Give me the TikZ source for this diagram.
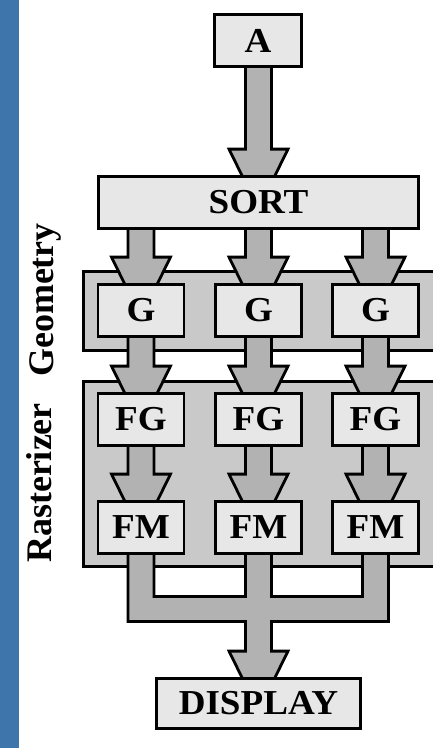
\documentclass[tikz,border=0pt]{standalone}
\usepackage{fontspec}
\setmainfont{Liberation Serif}
\newfontfamily\boxfam[FakeStretch=1.06]{Liberation Serif}
\usetikzlibrary{calc}
\definecolor{boxfill}{RGB}{231,231,231}
\definecolor{panelfill}{RGB}{201,201,201}
\definecolor{arrowfill}{RGB}{178,178,178}
\definecolor{sideblue}{RGB}{62,118,172}
\newcommand{\boxfont}{\boxfam\bfseries\fontsize{35}{35}\selectfont}
\newcommand{\labfont}{\bfseries\fontsize{36}{36}\selectfont}
\pgfdeclarelayer{panels}
\pgfdeclarelayer{arrows}
\pgfsetlayers{panels,arrows,main}
\tikzset{
  box/.style={draw, fill=boxfill, line width=2.8pt, inner sep=0pt, minimum height=52pt, font=\boxfont},
  colbox/.style={box, minimum width=86pt},
  panel/.style={draw, fill=panelfill, line width=2.8pt, inner sep=0pt},
  barrow/.style={draw, fill=arrowfill, line width=2.8pt, line join=miter},
  side/.style={rotate=90, anchor=base, font=\labfont}
}
% block arrow from node #1 down to node #2, shaft at the x of #2
\newcommand{\blockarr}[2]{%
  \draw[barrow] ($(#2.north |- #1.center)+(-13,0)$) -- ($(#2.north)+(-13,-26)$)
    -- ($(#2.north)+(-29.5,-26)$) -- ($(#2.north)+(0,34)$)
    -- ($(#2.north)+(29.5,-26)$) -- ($(#2.north)+(13,-26)$)
    -- ($(#2.north |- #1.center)+(13,0)$) -- cycle;}
\begin{document}
\begin{tikzpicture}[x=1pt,y=-1pt]
\useasboundingbox (0,0) rectangle (433,748);
\clip (0,0) rectangle (433,748);

% boxes
\node[box, minimum width=87pt] (A) at (258,40.5) {A};
\node[box, minimum width=320pt] (SORT) at (258.5,202.5) {SORT};
\foreach \i/\x in {1/141,2/258.5,3/375.5}{
  \node[colbox] (G\i) at (\x,310.5) {G};
  \node[colbox] (FG\i) at (\x,419.5) {FG};
  \node[colbox] (FM\i) at (\x,527.5) {FM};
}
\node[box, minimum width=204pt, minimum height=50pt] (DISPLAY) at (258.5,703.5) {DISPLAY};
\coordinate (bar) at (258.5,609);

% labels
\node[side] (geolab) at (53,300) {Geometry};
\node[side] (raslab) at (52,483) {Rasterizer};

\begin{pgfonlayer}{panels}
\fill[white] (0,0) rectangle (433,748);
\fill[sideblue] (0,0) rectangle (19,748);
\node[panel, minimum width=362pt, minimum height=79pt] (geo) at (264.5,311) {};
\node[panel, minimum width=362pt, minimum height=185pt] (ras) at (264.5,474) {};
\end{pgfonlayer}

\begin{pgfonlayer}{arrows}
\blockarr{A}{SORT}
\foreach \i in {1,2,3}{
  \blockarr{SORT}{G\i}
  \blockarr{G\i}{FG\i}
  \blockarr{FG\i}{FM\i}
}
% collector
\draw[barrow]
  ($(FM1.center)+(-13,0)$) -- ($(FM1.center |- bar)+(-13,12.5)$)
  -- ($(DISPLAY.north |- bar)+(-13,12.5)$) -- ($(DISPLAY.north)+(-13,-26)$)
  -- ($(DISPLAY.north)+(-29.5,-26)$) -- ($(DISPLAY.north)+(0,34)$)
  -- ($(DISPLAY.north)+(29.5,-26)$) -- ($(DISPLAY.north)+(13,-26)$)
  -- ($(DISPLAY.north |- bar)+(13,12.5)$) -- ($(FM3.center |- bar)+(13,12.5)$)
  -- ($(FM3.center)+(13,0)$) -- ($(FM3.center)+(-13,0)$)
  -- ($(FM3.center |- bar)+(-13,-12.5)$) -- ($(FM2.center |- bar)+(13,-12.5)$)
  -- ($(FM2.center)+(13,0)$) -- ($(FM2.center)+(-13,0)$)
  -- ($(FM2.center |- bar)+(-13,-12.5)$) -- ($(FM1.center |- bar)+(13,-12.5)$)
  -- ($(FM1.center)+(13,0)$) -- cycle;
\end{pgfonlayer}
\end{tikzpicture}
\end{document}
